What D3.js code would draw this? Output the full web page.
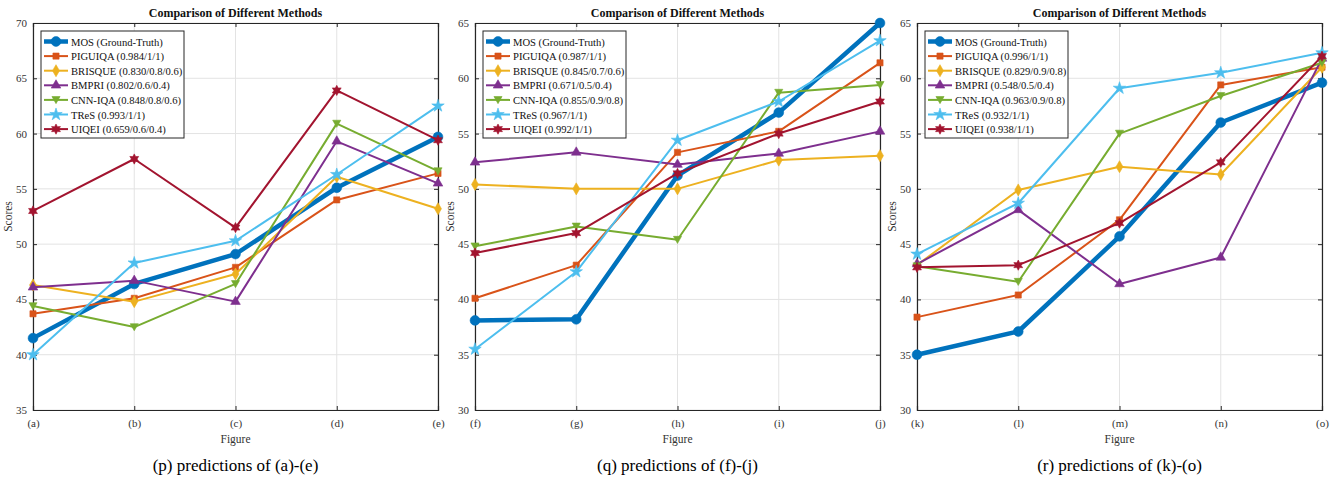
<!DOCTYPE html>
<html>
<head>
<meta charset="utf-8">
<script src="https://cdn.jsdelivr.net/npm/d3@7"></script>
<style>
  body { margin: 0; background: #fff; }
  text { font-family: "Liberation Serif", "Times New Roman", serif; }
</style>
</head>
<body>
<div id="chart"></div>
<script>
// data
var methods = ["MOS", "PIGUIQA", "BRISQUE", "BMPRI", "CNN-IQA", "TReS", "UIQEI"];
var colors = ["#0072BD", "#D95319", "#EDB120", "#7E2F8E", "#77AC30", "#4DBEEE", "#A2142F"];

var catsP = ["(a)", "(b)", "(c)", "(d)", "(e)"];
var catsQ = ["(f)", "(g)", "(h)", "(i)", "(j)"];
var catsR = ["(k)", "(l)", "(m)", "(n)", "(o)"];

var legendP = ["MOS (Ground-Truth)", "PIGUIQA (0.984/1/1)", "BRISQUE (0.830/0.8/0.6)", "BMPRI (0.802/0.6/0.4)",
  "CNN-IQA (0.848/0.8/0.6)", "TReS (0.993/1/1)", "UIQEI (0.659/0.6/0.4)"];
var legendQ = ["MOS (Ground-Truth)", "PIGUIQA (0.987/1/1)", "BRISQUE (0.845/0.7/0.6)", "BMPRI (0.671/0.5/0.4)",
  "CNN-IQA (0.855/0.9/0.8)", "TReS (0.967/1/1)", "UIQEI (0.992/1/1)"];
var legendR = ["MOS (Ground-Truth)", "PIGUIQA (0.996/1/1)", "BRISQUE (0.829/0.9/0.8)", "BMPRI (0.548/0.5/0.4)",
  "CNN-IQA (0.963/0.9/0.8)", "TReS (0.932/1/1)", "UIQEI (0.938/1/1)"];

var valuesP = [
  [41.5, 46.4, 49.1, 55.1, 59.7],
  [43.7, 45.1, 47.9, 54.0, 56.4],
  [46.3, 44.8, 47.3, 56.1, 53.2],
  [46.1, 46.7, 44.8, 59.3, 55.5],
  [44.4, 42.5, 46.4, 60.9, 56.6],
  [40.0, 48.3, 50.3, 56.3, 62.5],
  [53.0, 57.7, 51.5, 63.9, 59.4]
];
var valuesQ = [
  [38.1, 38.2, 51.2, 56.9, 65.0],
  [40.1, 43.1, 53.3, 55.2, 61.4],
  [50.4, 50.0, 50.0, 52.6, 53.0],
  [52.4, 53.3, 52.2, 53.2, 55.2],
  [44.8, 46.6, 45.4, 58.7, 59.4],
  [35.5, 42.5, 54.4, 57.9, 63.4],
  [44.2, 46.0, 51.4, 55.0, 57.9]
];
var valuesR = [
  [35.0, 37.1, 45.7, 56.0, 59.6],
  [38.4, 40.4, 47.2, 59.4, 61.0],
  [43.1, 49.9, 52.0, 51.3, 61.0],
  [43.2, 48.1, 41.4, 43.8, 61.8],
  [43.0, 41.6, 55.0, 58.4, 61.4],
  [44.1, 48.7, 59.1, 60.5, 62.3],
  [42.9, 43.1, 46.9, 52.4, 62.0]
];

var yDomainP = [35, 70];
var yDomainQ = [30, 65];
var yDomainR = [30, 65];

var captionP = "(p) predictions of (a)-(e)";
var captionQ = "(q) predictions of (f)-(j)";
var captionR = "(r) predictions of (k)-(o)";

var svgWidth = 1341;
var svgHeight = 479;

var svg = d3.select("#chart").append("svg")
  .attr("width", svgWidth)
  .attr("height", svgHeight);

// hexagram symbol for UIQEI
var hexagram = {
  draw: function(context, size) {
    var r = Math.sqrt(size / 1.6);
    var ri = r * 0.55;
    for (var i = 0; i < 12; i++) {
      var a = -Math.PI / 2 + i * Math.PI / 6;
      var rr = i % 2 === 0 ? r : ri;
      if (i === 0) context.moveTo(rr * Math.cos(a), rr * Math.sin(a));
      else context.lineTo(rr * Math.cos(a), rr * Math.sin(a));
    }
    context.closePath();
  }
};
var triDown = {
  draw: function(context, size) {
    var h = Math.sqrt(size) * 1.1;
    context.moveTo(-h * 0.6, -h * 0.5);
    context.lineTo(h * 0.6, -h * 0.5);
    context.lineTo(0, h * 0.55);
    context.closePath();
  }
};
var symbols = [
  d3.symbol().type(d3.symbolCircle).size(75),
  d3.symbol().type(d3.symbolSquare).size(38),
  d3.symbol().type(d3.symbolDiamond).size(42),
  d3.symbol().type(d3.symbolTriangle).size(40),
  d3.symbol().type(triDown).size(38),
  d3.symbol().type(d3.symbolStar).size(48),
  d3.symbol().type(hexagram).size(42)
];

function drawPanel(left, cats, values, legend, yDomain, caption) {
  var top = 23, width = 405, height = 387;
  var g = svg.append("g").attr("transform", `translate(${left}, ${top})`);

  var x = d3.scalePoint().domain(cats).range([0, width]);
  var y = d3.scaleLinear().domain(yDomain).range([height, 0]);
  var yTicks = d3.range(yDomain[0], yDomain[1] + 1, 5);

  // grid
  g.append("g").selectAll("line").data(cats).enter().append("line")
    .attr("x1", d => x(d)).attr("x2", d => x(d))
    .attr("y1", 0).attr("y2", height)
    .attr("stroke", "#e3e3e3").attr("stroke-width", 1);
  g.append("g").selectAll("line").data(yTicks).enter().append("line")
    .attr("x1", 0).attr("x2", width)
    .attr("y1", d => y(d)).attr("y2", d => y(d))
    .attr("stroke", "#e3e3e3").attr("stroke-width", 1);

  // axes (ticks inside)
  var bottomAxis = d3.axisBottom(x).tickSize(-4).tickPadding(9);
  var leftAxis = d3.axisLeft(y).tickValues(yTicks).tickSize(-4).tickPadding(6);
  var topAxis = d3.axisTop(x).tickSize(-4).tickFormat("");
  var rightAxis = d3.axisRight(y).tickValues(yTicks).tickSize(-4).tickFormat("");

  var xa = g.append("g").attr("transform", `translate(0, ${height})`).call(bottomAxis);
  var ya = g.append("g").call(leftAxis);
  g.append("g").call(topAxis);
  g.append("g").attr("transform", `translate(${width}, 0)`).call(rightAxis);
  g.selectAll(".domain").attr("stroke", "#262626").attr("stroke-width", 1.2);
  g.selectAll(".tick line").attr("stroke", "#262626");
  g.selectAll(".tick text").attr("fill", "#333").style("font-size", "11px")
    .style("font-family", "Liberation Serif, serif");

  // series
  var line = d3.line().x((d, i) => x(cats[i])).y(d => y(d));
  values.forEach(function(vals, s) {
    g.append("path").datum(vals)
      .attr("d", line)
      .attr("fill", "none")
      .attr("stroke", colors[s])
      .attr("stroke-width", s === 0 ? 4.5 : 2)
      .attr("stroke-linejoin", "round");
    g.append("g").selectAll("path").data(vals).enter().append("path")
      .attr("d", symbols[s])
      .attr("transform", (d, i) => `translate(${x(cats[i])}, ${y(d)})`)
      .attr("fill", colors[s])
      .attr("stroke", colors[s])
      .attr("stroke-width", 0.6);
  });

  // title and labels
  g.append("text").attr("x", width / 2).attr("y", -6)
    .attr("text-anchor", "middle").style("font-size", "12px").style("font-weight", "bold")
    .attr("fill", "#111").text("Comparison of Different Methods");
  g.append("text").attr("x", width / 2).attr("y", height + 33)
    .attr("text-anchor", "middle").style("font-size", "11.5px").attr("fill", "#333").text("Figure");
  g.append("text").attr("transform", `translate(-21, ${height / 2}) rotate(-90)`)
    .attr("text-anchor", "middle").style("font-size", "11.5px").attr("fill", "#333").text("Scores");
  g.append("text").attr("x", width / 2).attr("y", height + 61)
    .attr("text-anchor", "middle").style("font-size", "17px").attr("fill", "#000").text(caption);

  // legend
  var lg = g.append("g").attr("transform", "translate(8, 8)");
  lg.append("rect").attr("width", 143).attr("height", 107)
    .attr("fill", "#fff").attr("stroke", "#262626").attr("stroke-width", 1);
  legend.forEach(function(lab, s) {
    var ly = 10.5 + s * 14.6;
    lg.append("line").attr("x1", 3).attr("x2", 27).attr("y1", ly).attr("y2", ly)
      .attr("stroke", colors[s]).attr("stroke-width", s === 0 ? 4.5 : 2);
    lg.append("path").attr("d", symbols[s]).attr("transform", `translate(15, ${ly})`)
      .attr("fill", colors[s]).attr("stroke", colors[s]).attr("stroke-width", 0.6);
    lg.append("text").attr("x", 30).attr("y", ly + 4)
      .style("font-size", "10.6px").attr("fill", "#111").text(lab);
  });
}

drawPanel(33, catsP, valuesP, legendP, yDomainP, captionP);
drawPanel(475, catsQ, valuesQ, legendQ, yDomainQ, captionQ);
drawPanel(917, catsR, valuesR, legendR, yDomainR, captionR);
</script>
</body>
</html>
